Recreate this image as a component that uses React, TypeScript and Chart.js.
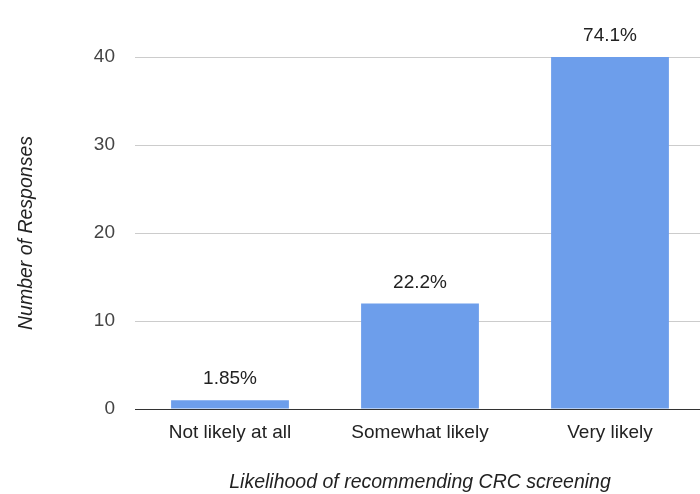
import React, { useEffect, useRef } from "react";
import { Chart, registerables } from "chart.js";

Chart.register(...registerables);

const categories = ["Not likely at all", "Somewhat likely", "Very likely"];
const responses = [1, 12, 40];
const percentLabels = ["1.85%", "22.2%", "74.1%"];
const yTicks = [0, 10, 20, 30, 40];

const FONT = '"Liberation Sans", Arial, Helvetica, sans-serif';

const barLabelPlugin = {
  id: "barLabels",
  afterDatasetsDraw(chart: any) {
    const { ctx } = chart;
    const meta = chart.getDatasetMeta(0);
    ctx.save();
    ctx.font = `19px ${FONT}`;
    ctx.fillStyle = "#222";
    ctx.textAlign = "center";
    ctx.textBaseline = "middle";
    meta.data.forEach((bar: any, i: number) => {
      ctx.fillText(percentLabels[i], bar.x, bar.y - 21);
    });
    ctx.restore();
  },
};

export default function App() {
  const ref = useRef<HTMLCanvasElement>(null);
  useEffect(() => {
    if (!ref.current) return;
    const chart = new Chart(ref.current, {
      type: "bar",
      data: {
        labels: categories,
        datasets: [
          {
            data: responses,
            backgroundColor: "#6d9eeb",
            categoryPercentage: 1,
            barPercentage: 0.62,
          },
        ],
      },
      options: {
        animation: false,
        responsive: false,
        devicePixelRatio: 1,
        layout: { padding: { top: 57, left: 0, right: 0, bottom: 0 } },
        plugins: { legend: { display: false }, tooltip: { enabled: false } },
        scales: {
          x: {
            grid: { display: false, drawTicks: false },
            border: { display: false },
            ticks: { color: "#222", font: { family: FONT, size: 19 }, padding: 12 },
            title: {
              display: true,
              text: "Likelihood of recommending CRC screening",
              color: "#222",
              font: { family: FONT, size: 19.5, style: "italic" },
              padding: { top: 0, bottom: 0 },
            },
            afterFit(scale: any) {
              scale.height = 85;
            },
          },
          y: {
            min: 0,
            max: 40,
            afterBuildTicks(scale: any) {
              scale.ticks = yTicks.map((v) => ({ value: v }));
            },
            grid: {
              drawTicks: false,
              color: (c: any) => (c.tick && c.tick.value === 0 ? "#333" : "#ccc"),
              lineWidth: 1,
            },
            border: { display: false },
            ticks: { color: "#444", font: { family: FONT, size: 19 }, padding: 20 },
            title: {
              display: true,
              text: "Number of Responses",
              color: "#222",
              font: { family: FONT, size: 19.5, style: "italic" },
              padding: { top: 15, bottom: 0 },
            },
            afterFit(scale: any) {
              scale.width = 135;
            },
          },
        },
      },
      plugins: [barLabelPlugin],
    });
    return () => chart.destroy();
  }, []);
  return (
    <div
      style={{
        position: "fixed",
        left: 0,
        top: 0,
        width: 700,
        height: 494,
        overflow: "hidden",
        background: "#fff",
      }}
    >
      <canvas ref={ref} width={705} height={494} style={{ display: "block" }} />
    </div>
  );
}
